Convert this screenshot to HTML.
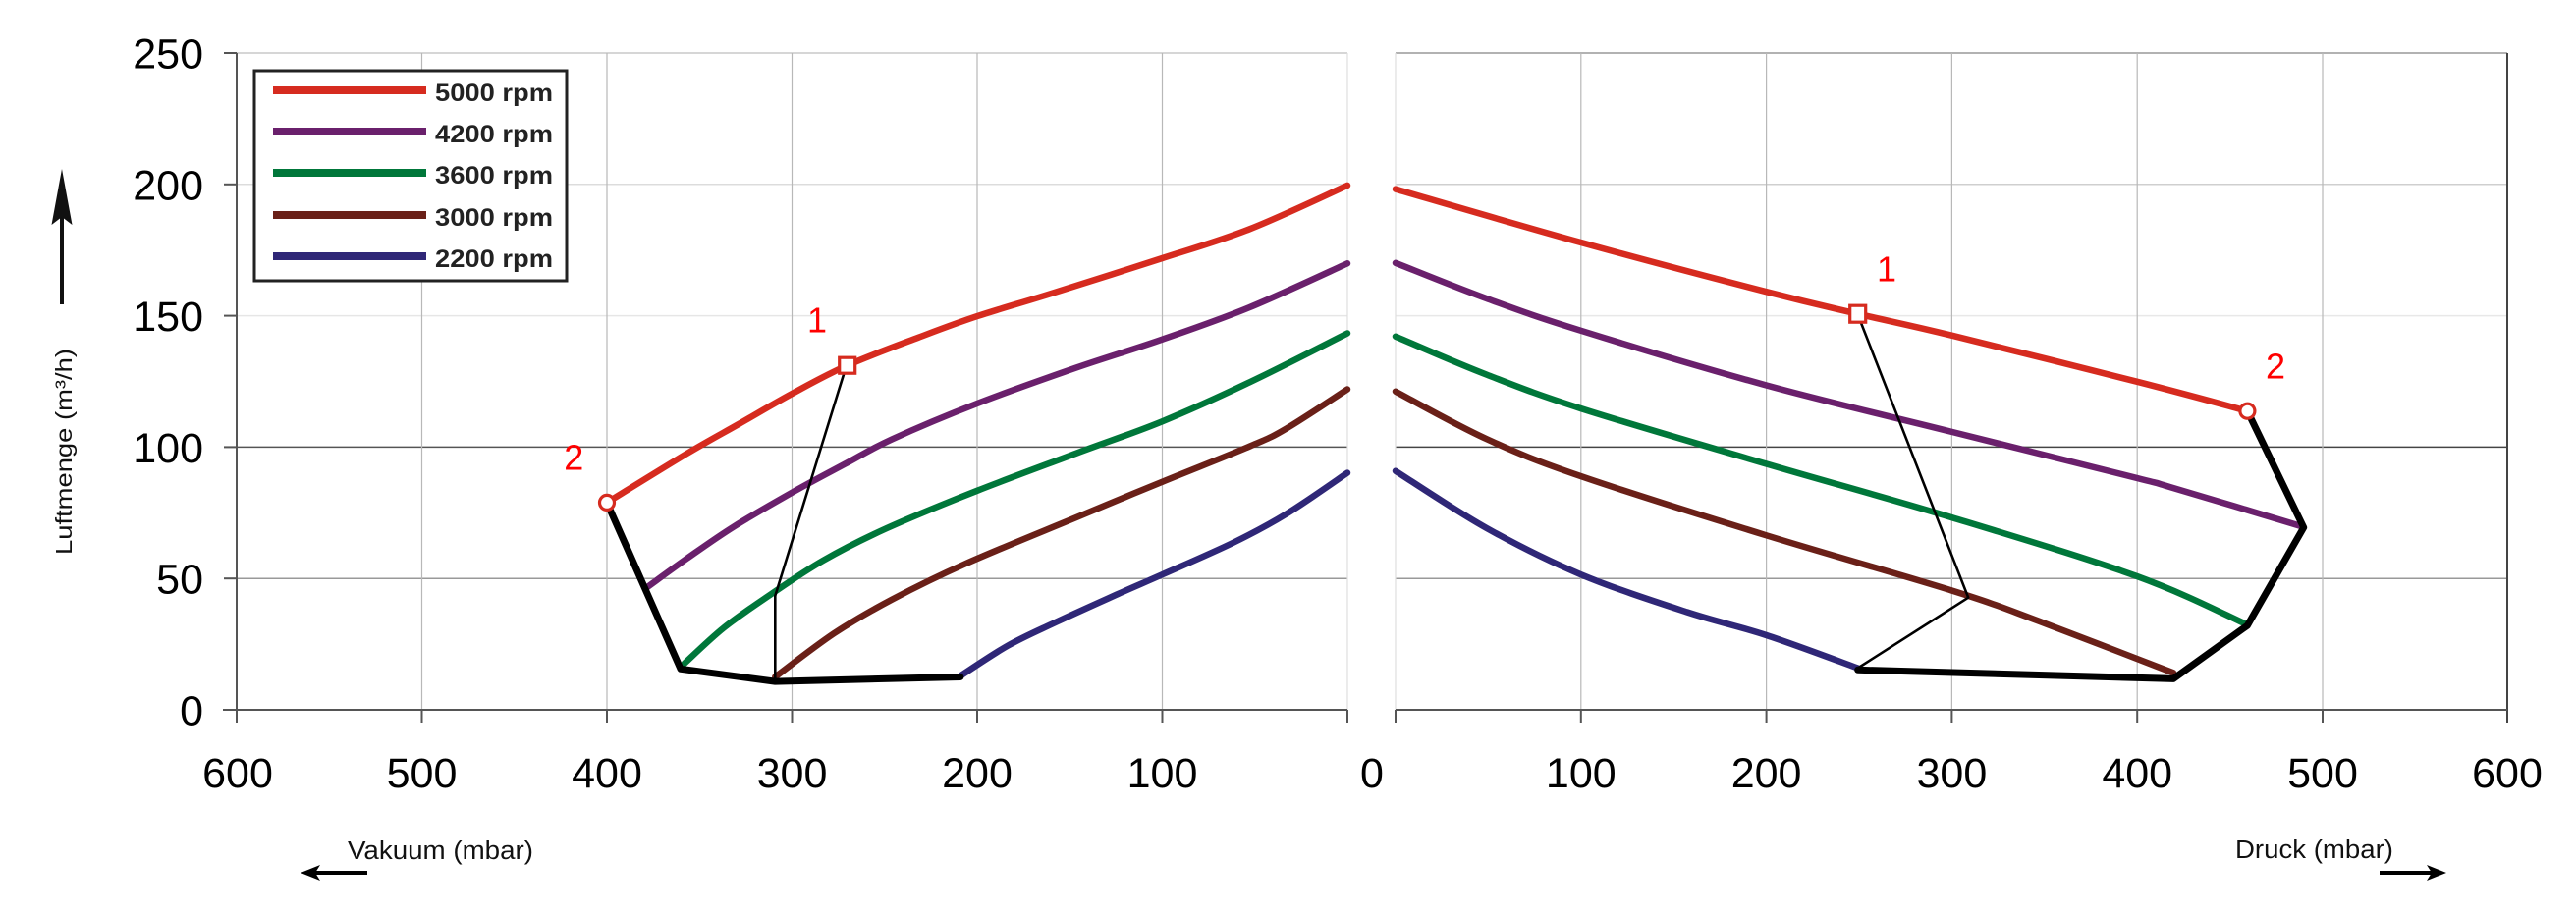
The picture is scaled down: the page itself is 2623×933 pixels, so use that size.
<!DOCTYPE html>
<html><head><meta charset="utf-8"><style>
html,body{margin:0;padding:0;background:#fff;}
svg{display:block;}
text{font-family:"Liberation Sans",Arial,sans-serif;}
</style></head><body>
<svg id="chart" width="2623" height="933" viewBox="0 0 2623 933" xmlns="http://www.w3.org/2000/svg">
<rect width="2623" height="933" fill="#fff"/>
<!-- horizontal gridlines -->
<g stroke-width="1.5">
<line x1="241" y1="54" x2="1372" y2="54" stroke="#c8c8c8"/>
<line x1="1421" y1="54" x2="2553" y2="54" stroke="#999"/>
<line x1="241" y1="187.8" x2="1372" y2="187.8" stroke="#dcdcdc"/>
<line x1="1421" y1="187.8" x2="2553" y2="187.8" stroke="#cfcfcf"/>
<line x1="241" y1="321.6" x2="1372" y2="321.6" stroke="#e6e6e6"/>
<line x1="1421" y1="321.6" x2="2553" y2="321.6" stroke="#e8e8e8"/>
<line x1="241" y1="455.4" x2="1372" y2="455.4" stroke="#555"/>
<line x1="1421" y1="455.4" x2="2553" y2="455.4" stroke="#444"/>
<line x1="241" y1="589.2" x2="1372" y2="589.2" stroke="#999"/>
<line x1="1421" y1="589.2" x2="2553" y2="589.2" stroke="#999"/>
</g>
<!-- vertical gridlines -->
<g stroke="#b8b8b8" stroke-width="1.2">
<line x1="429.5" y1="54" x2="429.5" y2="723"/>
<line x1="618" y1="54" x2="618" y2="723"/>
<line x1="806.5" y1="54" x2="806.5" y2="723"/>
<line x1="995" y1="54" x2="995" y2="723"/>
<line x1="1183.5" y1="54" x2="1183.5" y2="723"/>
<line x1="1372" y1="54" x2="1372" y2="723" stroke="#dedede"/>
<line x1="1421" y1="54" x2="1421" y2="723" stroke="#dedede"/>
<line x1="1609.8" y1="54" x2="1609.8" y2="723"/>
<line x1="1798.6" y1="54" x2="1798.6" y2="723"/>
<line x1="1987.4" y1="54" x2="1987.4" y2="723"/>
<line x1="2176.2" y1="54" x2="2176.2" y2="723"/>
<line x1="2365" y1="54" x2="2365" y2="723"/>
</g>
<!-- axes -->
<g stroke="#555" stroke-width="2">
<line x1="241" y1="54" x2="241" y2="736"/>
<line x1="2553" y1="54" x2="2553" y2="736" stroke="#444"/>
<line x1="227" y1="723" x2="1372" y2="723"/>
<line x1="1421" y1="723" x2="2553" y2="723"/>
<line x1="228" y1="54" x2="241" y2="54"/>
<line x1="228" y1="187.8" x2="241" y2="187.8"/>
<line x1="228" y1="321.6" x2="241" y2="321.6"/>
<line x1="228" y1="455.4" x2="241" y2="455.4"/>
<line x1="228" y1="589.2" x2="241" y2="589.2"/>
<line x1="429.5" y1="723" x2="429.5" y2="736"/>
<line x1="618" y1="723" x2="618" y2="736"/>
<line x1="806.5" y1="723" x2="806.5" y2="736"/>
<line x1="995" y1="723" x2="995" y2="736"/>
<line x1="1183.5" y1="723" x2="1183.5" y2="736"/>
<line x1="1372" y1="723" x2="1372" y2="736"/>
<line x1="1421" y1="723" x2="1421" y2="736"/>
<line x1="1609.8" y1="723" x2="1609.8" y2="736"/>
<line x1="1798.6" y1="723" x2="1798.6" y2="736"/>
<line x1="1987.4" y1="723" x2="1987.4" y2="736"/>
<line x1="2176.2" y1="723" x2="2176.2" y2="736"/>
<line x1="2365" y1="723" x2="2365" y2="736"/>
</g>
<!-- y tick labels -->
<g font-size="43" text-anchor="end" fill="#000">
<text x="207" y="69.5">250</text>
<text x="207" y="203.3">200</text>
<text x="207" y="337.1">150</text>
<text x="207" y="470.9">100</text>
<text x="207" y="604.7">50</text>
<text x="207" y="738.5">0</text>
</g>
<!-- x tick labels -->
<g font-size="43" text-anchor="middle" fill="#000">
<text x="242" y="802">600</text>
<text x="429.5" y="802">500</text>
<text x="618" y="802">400</text>
<text x="806.5" y="802">300</text>
<text x="995" y="802">200</text>
<text x="1183.5" y="802">100</text>
<text x="1397" y="802">0</text>
<text x="1609.8" y="802">100</text>
<text x="1798.6" y="802">200</text>
<text x="1987.4" y="802">300</text>
<text x="2176.2" y="802">400</text>
<text x="2365" y="802">500</text>
<text x="2553" y="802">600</text>
</g>
<!-- axis titles -->
<text transform="translate(73,460) rotate(-90)" font-size="23" text-anchor="middle" textLength="210" lengthAdjust="spacingAndGlyphs" fill="#111">Luftmenge (m³/h)</text>
<line x1="63" y1="310" x2="63" y2="215" stroke="#111" stroke-width="4"/>
<polygon points="63,172 73.5,229 63,221 52.5,229" fill="#111"/>
<text x="354" y="875" font-size="25.5" textLength="189" lengthAdjust="spacingAndGlyphs" fill="#111">Vakuum (mbar)</text>
<line x1="374" y1="889" x2="320" y2="889" stroke="#000" stroke-width="4"/>
<polygon points="306,889 326,881 321,889 326,897" fill="#000"/>
<text x="2276" y="874" font-size="25.5" textLength="161" lengthAdjust="spacingAndGlyphs" fill="#111">Druck (mbar)</text>
<line x1="2423" y1="889" x2="2477" y2="889" stroke="#000" stroke-width="4"/>
<polygon points="2491,889 2471,881 2476,889 2471,897" fill="#000"/>
<!-- legend -->
<rect x="259" y="72" width="318" height="214" fill="#fff" stroke="#222" stroke-width="3"/>
<g stroke-width="8">
<line x1="278" y1="92" x2="434" y2="92" stroke="#d62b1f"/>
<line x1="278" y1="134" x2="434" y2="134" stroke="#6a206c"/>
<line x1="278" y1="176" x2="434" y2="176" stroke="#00773a"/>
<line x1="278" y1="219" x2="434" y2="219" stroke="#6a2018"/>
<line x1="278" y1="261" x2="434" y2="261" stroke="#2f2777"/>
</g>
<g font-size="25" font-weight="bold" fill="#222">
<text x="443" y="103" textLength="120" lengthAdjust="spacingAndGlyphs">5000 rpm</text>
<text x="443" y="145" textLength="120" lengthAdjust="spacingAndGlyphs">4200 rpm</text>
<text x="443" y="187" textLength="120" lengthAdjust="spacingAndGlyphs">3600 rpm</text>
<text x="443" y="230" textLength="120" lengthAdjust="spacingAndGlyphs">3000 rpm</text>
<text x="443" y="272" textLength="120" lengthAdjust="spacingAndGlyphs">2200 rpm</text>
</g>
<!-- curves -->
<g fill="none" stroke-width="6.5" stroke-linejoin="round" stroke-linecap="round">
<!-- left -->
<polyline class="smooth" stroke="#d62b1f" points="618,511.9 699.4,462 753,431.5 806.5,401 862.7,372.2 935.1,343.8 995,322.1 1074.2,297.8 1183.5,263 1272.5,233.3 1372,188.9"/>
<polyline class="smooth" stroke="#6a206c" points="659.3,597.8 699.4,568.9 747.5,536.2 806.5,501.7 860,472.8 908.3,447.4 995,411 1095.7,374.6 1183.5,345.7 1272.5,313 1372,268.3"/>
<polyline class="smooth" stroke="#00773a" points="696.8,675.9 736.9,639.5 785,605.3 838.5,570.7 902.8,538.1 995,499.8 1095.7,461.8 1183.5,429.2 1272.5,389.3 1372,339.5"/>
<polyline class="smooth" stroke="#6a2018" points="789.3,689.5 849.3,645.1 908.3,610.6 983.1,574.2 1095.7,527.1 1183.5,490.7 1272.5,454.6 1310,436.4 1372,396.5"/>
<polyline class="smooth" stroke="#2f2777" points="977.9,688.5 1026.1,657.7 1074.2,634.2 1138.4,605 1183.5,585.2 1256.3,552.5 1310,523.4 1372,481.6"/>
<!-- right -->
<polyline class="smooth" stroke="#d62b1f" points="1421,192.6 1609.8,247 1798.6,297.2 1891.7,319.7 1987.4,341.7 2176.2,388.8 2288.4,418.7"/>
<polyline class="smooth" stroke="#6a206c" points="1421,267.8 1513.5,304 1609.8,336.8 1798.6,392.5 1987.4,439.9 2176.2,487 2209.8,496.1 2343.9,536.2"/>
<polyline class="smooth" stroke="#00773a" points="1421,342.7 1513.5,381.5 1609.8,416.1 1798.6,472.5 1987.4,527.1 2176.2,587.1 2286.5,635.5"/>
<polyline class="smooth" stroke="#6a2018" points="1421,398.7 1513.5,447.1 1609.8,485.1 1798.6,545.3 1987.4,601.5 2075.8,632.6 2213,685.3"/>
<polyline class="smooth" stroke="#2f2777" points="1421,479.7 1513.5,537.8 1609.8,585.2 1718,623.5 1798.6,647 1891.7,680.5"/>
</g>
<!-- black boundary lines -->
<g fill="none" stroke="#000" stroke-linejoin="round" stroke-linecap="round">
<polyline stroke-width="7" points="618,511.9 693,681.3 789.3,694.1 977.9,689.5"/>
<polyline stroke-width="2.6" points="860,378.3 789.3,606.9 789.3,694.1"/>
<polyline stroke-width="7" points="2288.4,418.7 2345.7,537.3 2288.4,637.1 2213,691.4 1891.7,682.3"/>
<polyline stroke-width="2.6" points="1893.6,325.3 2004.2,608.7 1891.7,680.5"/>
</g>
<!-- markers -->
<circle cx="618" cy="511.9" r="7.5" fill="#fff" stroke="#d62b1f" stroke-width="3.2"/>
<circle cx="2288.4" cy="418.7" r="7.5" fill="#fff" stroke="#d62b1f" stroke-width="3.2"/>
<rect x="854.7" y="364.2" width="16" height="16" fill="#fff" stroke="#d62b1f" stroke-width="3.2"/>
<rect x="1883.7" y="311.2" width="16" height="17" fill="#fff" stroke="#d62b1f" stroke-width="3.2"/>
<!-- labels -->
<g font-size="36" fill="#ff0000" text-anchor="middle">
<text x="832" y="338.6">1</text>
<text x="584.3" y="478.3">2</text>
<text x="1921" y="286.4">1</text>
<text x="2317" y="385.4">2</text>
</g>
</svg>
<script>
(function(){
  var ns="http://www.w3.org/2000/svg";
  var els=document.querySelectorAll("polyline.smooth");
  for(var k=0;k<els.length;k++){
    var el=els[k];
    var raw=el.getAttribute("points").trim().split(/\s+/);
    var p=raw.map(function(s){var a=s.split(",");return [parseFloat(a[0]),parseFloat(a[1])];});
    var n=p.length;
    var d="M"+p[0][0]+","+p[0][1];
    for(var i=0;i<n-1;i++){
      var p0=p[i-1]||p[i], p1=p[i], p2=p[i+1], p3=p[i+2]||p[i+1];
      var c1x=p1[0]+(p2[0]-p0[0])/6, c1y=p1[1]+(p2[1]-p0[1])/6;
      var c2x=p2[0]-(p3[0]-p1[0])/6, c2y=p2[1]-(p3[1]-p1[1])/6;
      d+=" C"+c1x.toFixed(1)+","+c1y.toFixed(1)+" "+c2x.toFixed(1)+","+c2y.toFixed(1)+" "+p2[0]+","+p2[1];
    }
    var path=document.createElementNS(ns,"path");
    path.setAttribute("d",d);
    path.setAttribute("stroke",el.getAttribute("stroke"));
    el.parentNode.replaceChild(path,el);
  }
})();
</script>
</body></html>
